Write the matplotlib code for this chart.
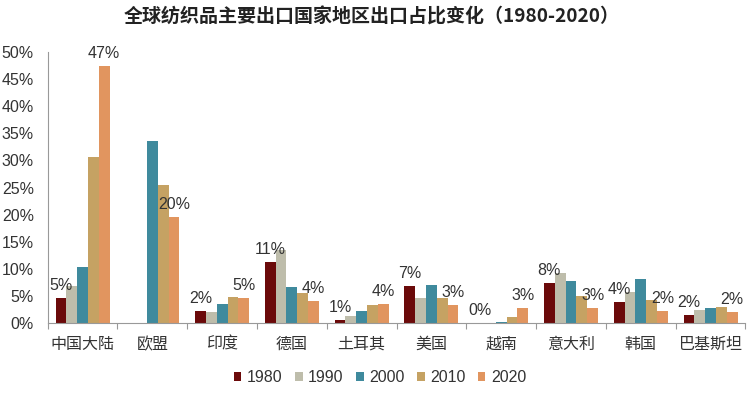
import matplotlib
matplotlib.use("Agg")
import matplotlib.pyplot as plt
import numpy as np

plt.rcParams['font.family'] = ['Liberation Sans', 'Noto Sans CJK SC', 'DejaVu Sans']

categories = ["中国大陆", "欧盟", "印度", "德国", "土耳其", "美国", "越南", "意大利", "韩国", "巴基斯坦"]
years = ["1980", "1990", "2000", "2010", "2020"]
v1980 = [4.6, np.nan, 2.3, 11.3, 0.6, 6.9, 0.0, 7.5, 4.0, 1.6]
v1990 = [6.9, np.nan, 2.0, 13.5, 1.3, 4.7, 0.0, 9.2, 5.7, 2.5]
v2000 = [10.3, 33.6, 3.6, 6.7, 2.3, 7.0, 0.2, 7.7, 8.1, 2.8]
v2010 = [30.6, 25.5, 4.9, 5.5, 3.4, 4.7, 1.1, 5.1, 4.3, 3.0]
v2020 = [47.3, 19.6, 4.6, 4.1, 3.6, 3.4, 2.9, 2.9, 2.3, 2.1]
colors = ["#6B0A0A", "#BEBDAB", "#3F8A9D", "#C5A263", "#E1955F"]

series = [v1980, v1990, v2000, v2010, v2020]

fig = plt.figure(figsize=(7.53, 3.99), dpi=100)
ax = fig.add_axes([0.0633, 0.1897, 0.9267, 0.6807])

x = np.arange(len(categories))
w = 0.155
for i, (vals, c, yr) in enumerate(zip(series, colors, years)):
    arr = np.array(vals, dtype=float) / 100
    ax.bar(x + (i - 2) * w, np.nan_to_num(arr), width=w, color=c, label=yr, linewidth=0)

# data labels on 1980 and 2020 bars
for vals, off in [(v1980, -2), (v2020, 2)]:
    for xi, v in zip(x, vals):
        if np.isnan(v):
            continue
        ax.text(xi + off * w, v / 100 + 0.009, f"{v:.0f}%", ha='center', va='bottom',
                fontsize=11.5, color='#333333', family=['Liberation Sans', 'DejaVu Sans'])

ax.set_xlim(-0.5, len(categories) - 0.5)
ax.set_ylim(0, 0.5)
yt = np.arange(0, 0.51, 0.05)
ax.set_yticks(yt)
ax.set_yticklabels([f"{int(round(t*100))}%" for t in yt], fontsize=11.5, color='#333333')
ax.tick_params(axis='y', length=0, pad=10)

ax.set_xticks(np.arange(-0.5, len(categories), 1.0))
ax.set_xticklabels([])
ax.set_xticks(x, minor=True)
ax.set_xticklabels(categories, minor=True, fontsize=11.5, color='#333333',
                   family=['Noto Sans CJK SC', 'DejaVu Sans'])
ax.tick_params(axis='x', which='major', length=4, color='#999999', direction='out')
ax.tick_params(axis='x', which='minor', length=0, pad=9)

for s in ['top', 'right']:
    ax.spines[s].set_visible(False)
for s in ['left', 'bottom']:
    ax.spines[s].set_color('#999999')
    ax.spines[s].set_linewidth(0.8)

fig.text(0.493, 0.957, "全球纺织品主要出口国家地区出口占比变化（1980-2020）", ha='center', va='center',
         fontsize=13.7, fontweight='bold', color='#222222',
         family=['Noto Sans CJK SC', 'DejaVu Sans'])

leg = fig.legend(loc='center', bbox_to_anchor=(0.505, 0.053), ncol=5, frameon=False,
                 fontsize=11.5, handlelength=0.45, handleheight=0.45, handletextpad=0.35,
                 columnspacing=0.8)
for t in leg.get_texts():
    t.set_color('#333333')

fig.savefig("out.png", dpi=100)
